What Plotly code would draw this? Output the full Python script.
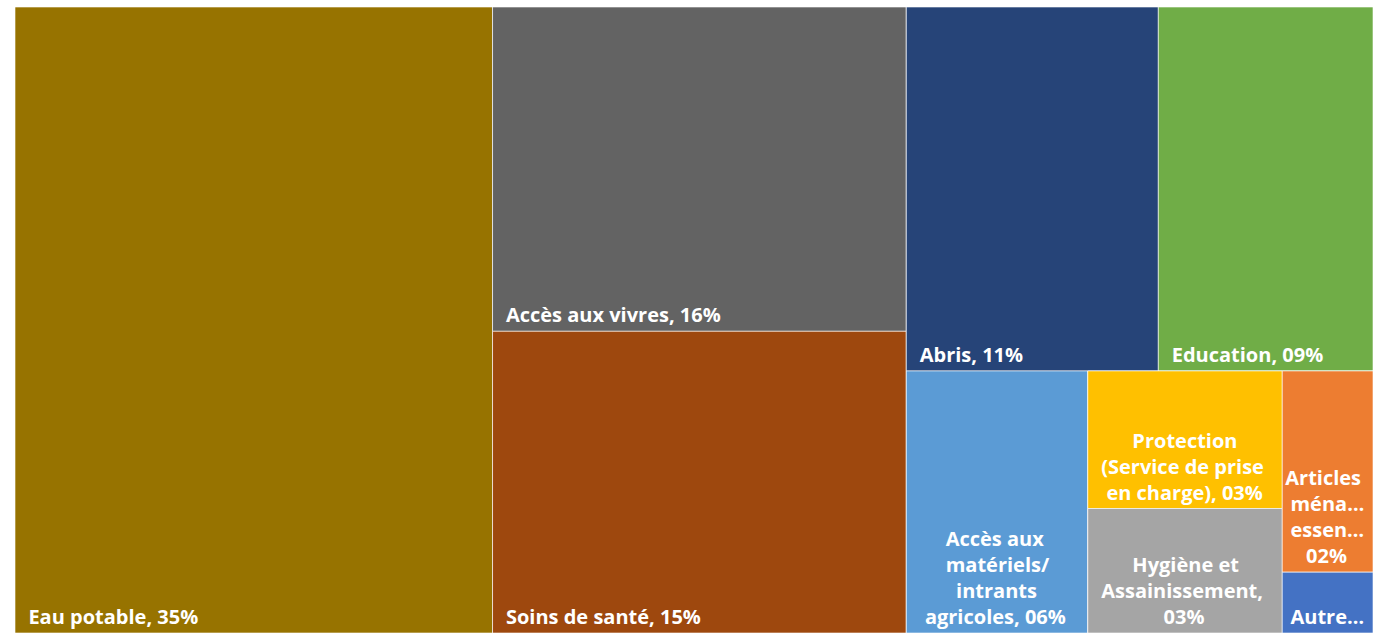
import plotly.graph_objects as go

# Leaf categories and their shares (%)
categories = [
    "Eau potable",
    "Accès aux vivres",
    "Soins de santé",
    "Abris",
    "Education",
    "Accès aux matériels/intrants agricoles",
    "Protection (Service de prise en charge)",
    "Hygiène et Assainissement",
    "Articles ménagers essentiels",
    "Autre",
]
values = [35.2, 15.8, 14.7, 10.8, 9.2, 5.6, 3.15, 2.85, 2.15, 0.65]
# Label lines as displayed in the tiles
display_lines = [
    ["Eau potable, 35%"],
    ["Accès aux vivres, 16%"],
    ["Soins de santé, 15%"],
    ["Abris, 11%"],
    ["Education, 09%"],
    ["Accès aux", "matériels/", "intrants", "agricoles, 06%"],
    ["Protection", "(Service de prise", "en charge), 03%"],
    ["Hygiène et", "Assainissement,", "03%"],
    ["Articles", "ména…", "essen…", "02%"],
    ["Autre…"],
]
leaf_parents = ["", "G2", "G2", "G3a", "G3a", "G3b", "G3b2", "G3b2", "G3b3", "G3b3"]
colors = ["#977300", "#636363", "#9E480E", "#264478", "#70AD47",
          "#5B9BD5", "#FFC000", "#A5A5A5", "#ED7D31", "#4472C4"]

# Styling: leading non-breaking spaces per line (indent / visual centring)
line_indent = [
    [2], [2], [2], [2], [2],
    [7, 7, 9, 3],
    [8, 2, 3],
    [8, 2, 14],
    [0, 1, 1, 4],
    [1],
]

# Layout grouping nodes (invisible) reproducing the tile arrangement
group_ids = ["G2", "G3", "G3a", "G3b", "G3b2", "G3b3"]
group_parents = ["", "", "G3", "G3", "G3b", "G3b"]

display_text = [
    "<br>".join("\u00a0" * n + ln for n, ln in zip(ind, lines))
    for ind, lines in zip(line_indent, display_lines)
]

ids = categories + group_ids
labels = categories + group_ids
parents = leaf_parents + group_parents
vals = values + [0] * len(group_ids)
texts = display_text + [""] * len(group_ids)
node_colors = colors + ["#FFFFFF"] * len(group_ids)

fig = go.Figure(go.Treemap(
    ids=ids,
    labels=labels,
    parents=parents,
    values=vals,
    text=texts,
    textinfo="text",
    branchvalues="remainder",
    sort=False,
    tiling=dict(packing="slice-dice", pad=0),
    marker=dict(colors=node_colors, pad=dict(t=0, l=0, r=0, b=0),
                line=dict(color="rgba(255,255,255,0.6)", width=1),
                depthfade=False),
    pathbar=dict(visible=False),
    textposition="bottom left",
    textfont=dict(family="Open Sans", size=20, color="white", weight="bold"),
    hoverinfo="label+value",
    root=dict(color="white"),
))

fig.update_layout(
    width=1373, height=633,
    margin=dict(l=15, r=0, t=7, b=0),
    paper_bgcolor="white",
    showlegend=False,
)

fig.write_html(
    "out.html",
    config={"displayModeBar": False},
    post_script="document.body.style.margin='0';document.body.style.overflow='hidden';",
)
